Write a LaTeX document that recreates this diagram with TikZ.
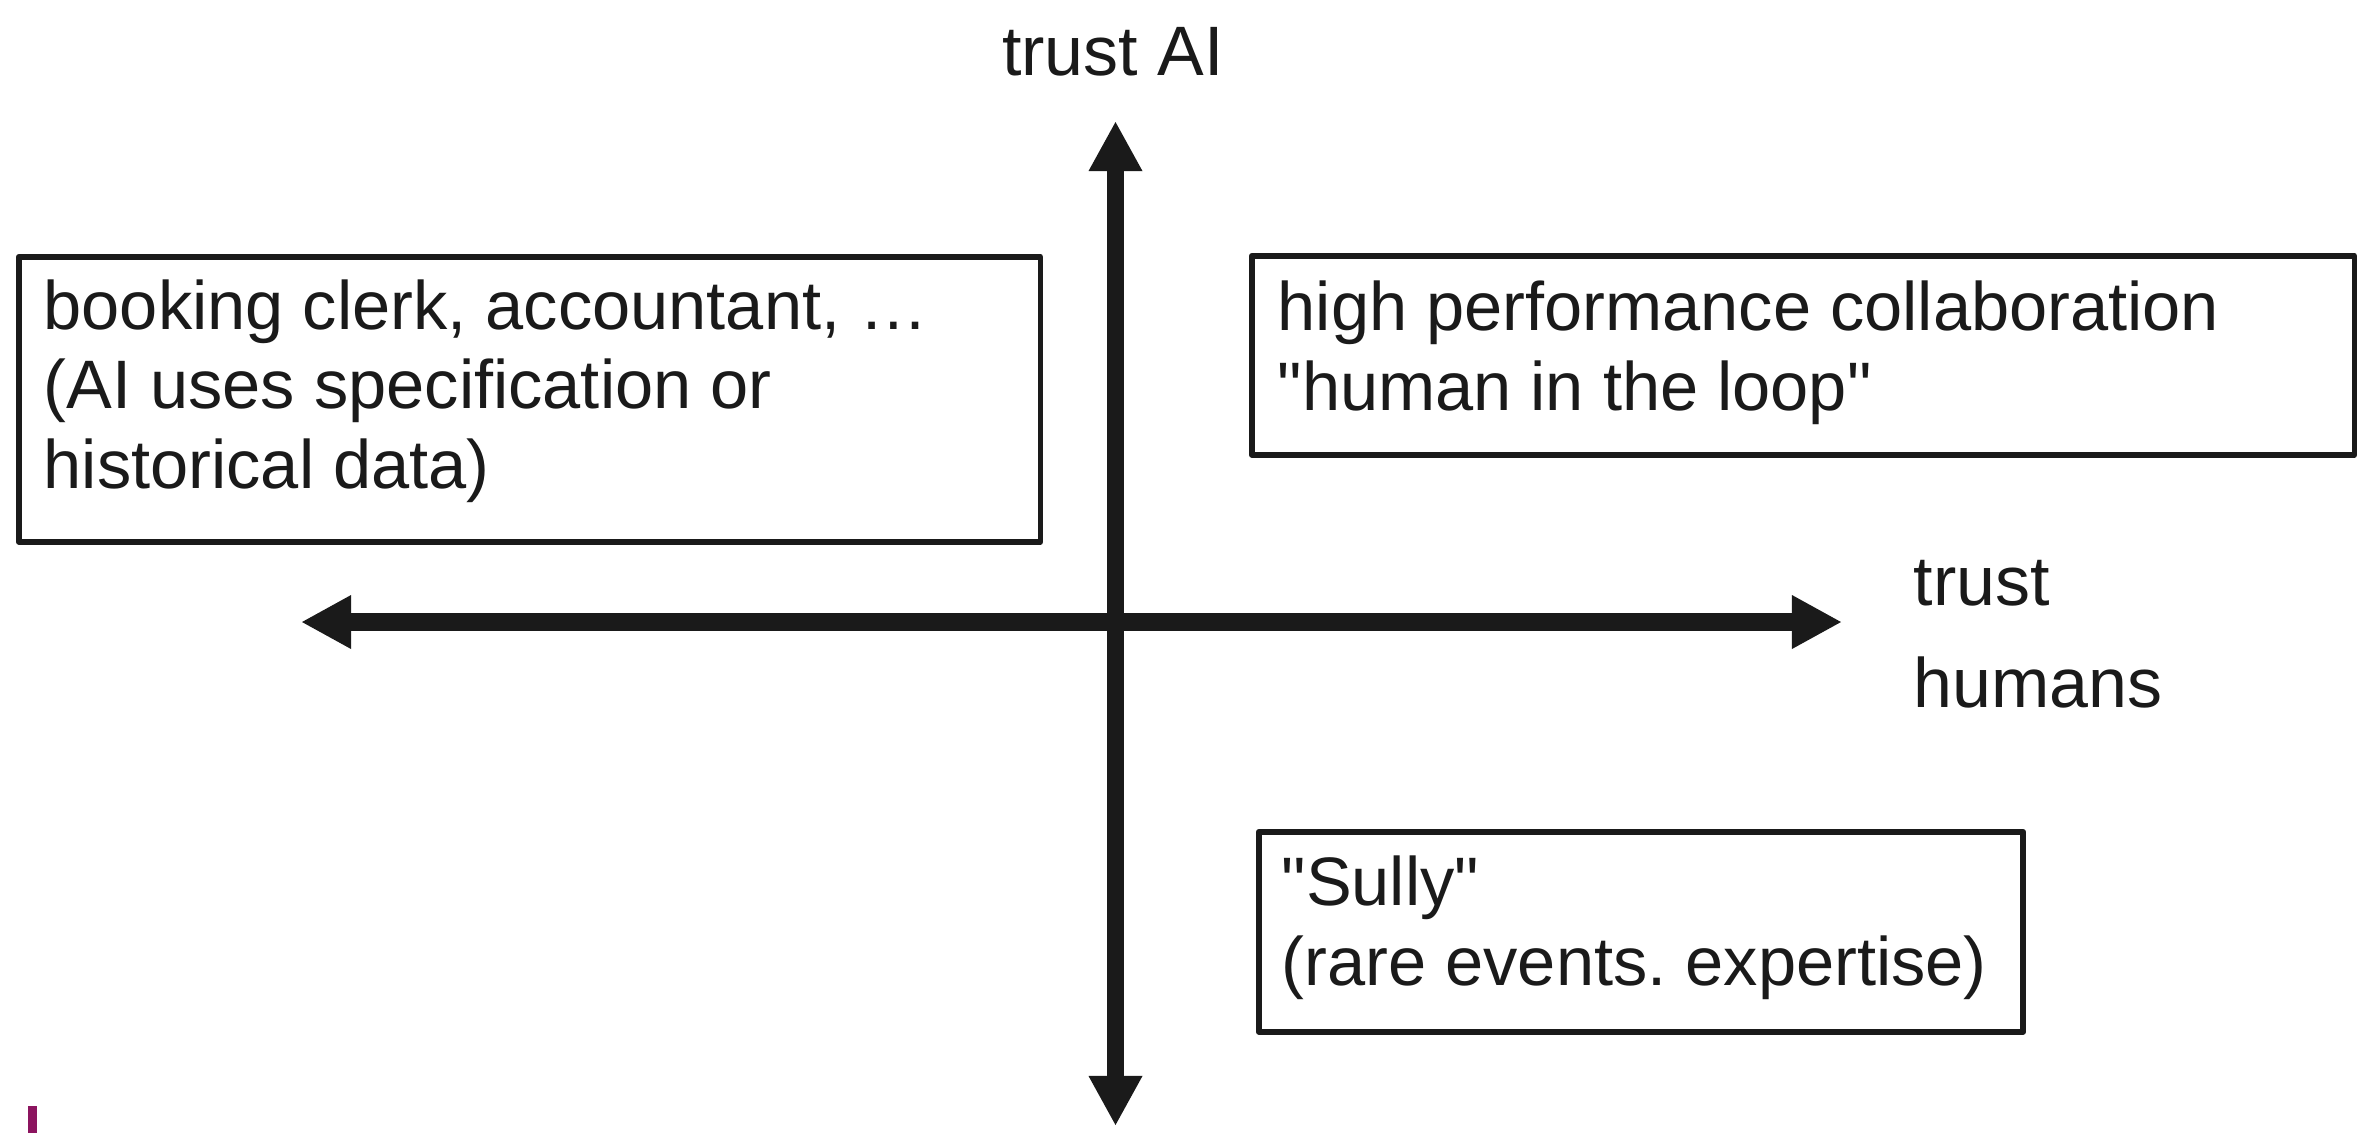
\documentclass[tikz,border=0pt]{standalone}
\usepackage{fontspec}
\setmainfont{Liberation Sans}[Ligatures=TeXOff]
\usetikzlibrary{arrows.meta}
\frenchspacing
\definecolor{ink}{HTML}{1A1A1A}
\definecolor{markcol}{RGB}{140,20,95}
\newcommand\boxfont{\fontsize{19.5pt}{22.6pt}\selectfont}
\newcommand\axfont{\fontsize{19.9pt}{29pt}\selectfont}
\begin{document}
\begin{tikzpicture}[x=0.01cm,y=-0.01cm,
  quad/.style={draw=ink, line width=0.055cm, line join=round, inner sep=0pt,
               anchor=north west},
  txt/.style={text=ink, inner sep=0pt, align=left, font=\boxfont},
  axis/.style={draw=ink, line width=0.175cm,
               {Triangle[width=0.5cm,length=0.5cm]}-{Triangle[width=0.5cm,length=0.5cm]}}]
\useasboundingbox (0,0) rectangle (2369,1147);

% quadrant boxes
\node[quad, minimum width=10.21cm, minimum height=2.85cm] (bl) at (16,254) {};
\node[quad, minimum width=11.02cm, minimum height=1.99cm] (br) at (1249,253) {};
\node[quad, minimum width=7.64cm, minimum height=2.00cm] (bb) at (1256,829) {};

% axes
\coordinate (up) at (1115.5,121);
\coordinate (down) at (1115.5,1126);
\coordinate (west) at (301,622);
\coordinate (east) at (1842,622);
\draw[axis] (down) -- (up);
\draw[axis] (west) -- (east);

% texts (base anchor = baseline of the last line)
\node[txt, anchor=base west] (tl) at (43,488)
  {booking clerk, accountant, …\\(AI uses specification or\\historical data)};
\node[txt, anchor=base west] (tr) at (1277,410)
  {high performance collaboration\\"human in the loop"};
\node[txt, anchor=base west] (tb) at (1281,985)
  {"Sully"\\(rare events. expertise)};
\node[txt, font=\axfont, anchor=base] (ai) at (1113,75) {trust AI};
\node[txt, font=\axfont, anchor=base west] (hu) at (1913,707) {trust\\humans};

% small mark bottom left
\fill[markcol] (28,1106) rectangle (37,1133);
\end{tikzpicture}
\end{document}
